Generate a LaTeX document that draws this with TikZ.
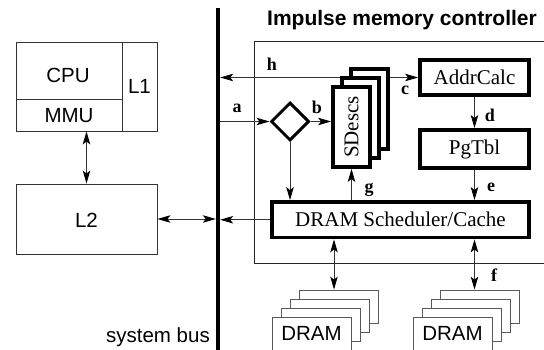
\documentclass[tikz,border=0pt]{standalone}
\usepackage{fontspec}
\setmainfont{Liberation Serif}
\setsansfont{Liberation Sans}
\usetikzlibrary{arrows.meta,shapes.geometric}
\begin{document}
\begin{tikzpicture}[x=1pt,y=-1pt,
  wire/.style={draw=black!80,line width=0.9pt},
  tip/.tip={Stealth[length=13pt,width=7.5pt,inset=3pt,black]},
  arr/.style={wire,-tip},
  darr/.style={wire,tip-tip},
  thickbox/.style={draw=black,line width=3.8pt,fill=white,inner sep=0pt,font=\fontsize{21}{24}\selectfont},
  plainbox/.style={draw=black!80,line width=0.9pt,fill=white,inner sep=0pt},
  card/.style={draw=black!65,line width=0.8pt,fill=white,minimum width=79pt,minimum height=33pt,inner sep=0pt,font=\sffamily\fontsize{20.5}{24}\selectfont},
  lbl/.style={font=\fontsize{18}{20}\selectfont\bfseries,inner sep=0pt},
  sanstxt/.style={font=\sffamily\fontsize{20.5}{24}\selectfont,inner sep=0pt}]
\useasboundingbox (0,0) rectangle (544,350);

% title and controller frame
\node[font=\sffamily\bfseries\fontsize{21}{24}\selectfont,anchor=base east,inner sep=0pt] (title) at (537,25.5) {Impulse memory controller};
\draw[draw=black!85,line width=1pt] (548,42) -- (254,42) -- (254,263) -- (548,263);

% system bus
\node[fill=black,minimum width=4pt,minimum height=346pt,inner sep=0pt] (bus) at (218,181) {};
\node[sanstxt,anchor=base east] (bustxt) at (210,342) {system bus};

% CPU / MMU / L1
\node[plainbox,minimum width=106pt,minimum height=57pt] (cpu) at (69,70.5) {};
\node[plainbox,minimum width=106pt,minimum height=32pt] (mmu) at (69,115) {};
\node[plainbox,minimum width=35pt,minimum height=89pt] (l1) at (139.5,86.5) {};
\node[sanstxt,anchor=base] (cputxt) at (68,83) {CPU};
\node[sanstxt,anchor=base] (mmutxt) at (69,123) {MMU};
\node[sanstxt,anchor=base] (l1txt) at (139.5,94) {L1};

% L2
\node[plainbox,minimum width=141pt,minimum height=70pt] (l2) at (86.5,219) {};
\node[sanstxt,anchor=base] (l2txt) at (86.5,228) {L2};
\draw[darr] (l2.north |- mmu.south) -- (l2.north);
\draw[darr] (l2.east) -- (l2.east -| bus.west);

% controller internals
\node[thickbox,minimum width=109pt,minimum height=35pt] (addr) at (474.5,77.5) {AddrCalc};
\node[thickbox,minimum width=109pt,minimum height=38pt] (pg) at (474.5,149) {PgTbl};
\node[thickbox,minimum width=257pt,minimum height=35.5pt] (sched) at (400.5,219.75) {DRAM Scheduler/Cache};
\node[diamond,aspect=1,draw=black,line width=3pt,fill=white,minimum width=38pt,minimum height=38pt,inner sep=0pt] (dia) at (290,121.5) {};

% h / c line (behind the SDescs stack)
\draw[darr] (addr.west -| bus.east) -- (addr.west);
\node[lbl] (h) at (272,64) {h};
\node[lbl] (c) at (405,90) {c};

% SDescs stack
\node[thickbox,minimum width=37pt,minimum height=80pt] (sd3) at (369.5,109) {};
\node[thickbox,minimum width=37pt,minimum height=80pt] (sd2) at (360.5,118) {};
\node[thickbox,minimum width=80pt,minimum height=37pt,rotate=90] (sd1) at (351.5,127) {SDescs};

% arrows a, b, g, d, e
\draw[arr] (bus.east |- dia.west) -- (dia.west);
\node[lbl] (a) at (237,108) {a};
\draw[arr] (dia.east) -- (dia.east -| sd1.north);
\node[lbl] (b) at (317,107) {b};
\draw[arr] (dia.south) -- (dia.south |- sched.north);
\draw[arr] (sd1.west |- sched.north) -- (sd1.west);
\node[lbl] (g) at (369,190) {g};
\draw[arr] (addr.south) -- (pg.north);
\node[lbl] (d) at (490,115) {d};
\draw[arr] (pg.south) -- (pg.south |- sched.north);
\node[lbl] (e) at (491,187) {e};
\draw[arr] (sched.west) -- (sched.west -| bus.east);

% DRAM stacks
\node[card] (dl4) at (338.5,306.5) {};
\node[card] (dl3) at (329.5,315.5) {};
\node[card] (dl2) at (320.5,324.5) {};
\node[card] (dl1) at (311.5,333.5) {DRAM};
\node[card] (dr4) at (479.5,306.5) {};
\node[card] (dr3) at (470.5,315.5) {};
\node[card] (dr2) at (461.5,324.5) {};
\node[card] (dr1) at (452.5,333.5) {DRAM};
\coordinate (fl) at (334,0);
\draw[darr] (sched.south -| fl) -- (dl4.north -| fl);
\draw[darr] (sched.south -| pg.south) -- (dr4.north -| pg.south);
\node[lbl] (f) at (494,275) {f};
\end{tikzpicture}
\end{document}
